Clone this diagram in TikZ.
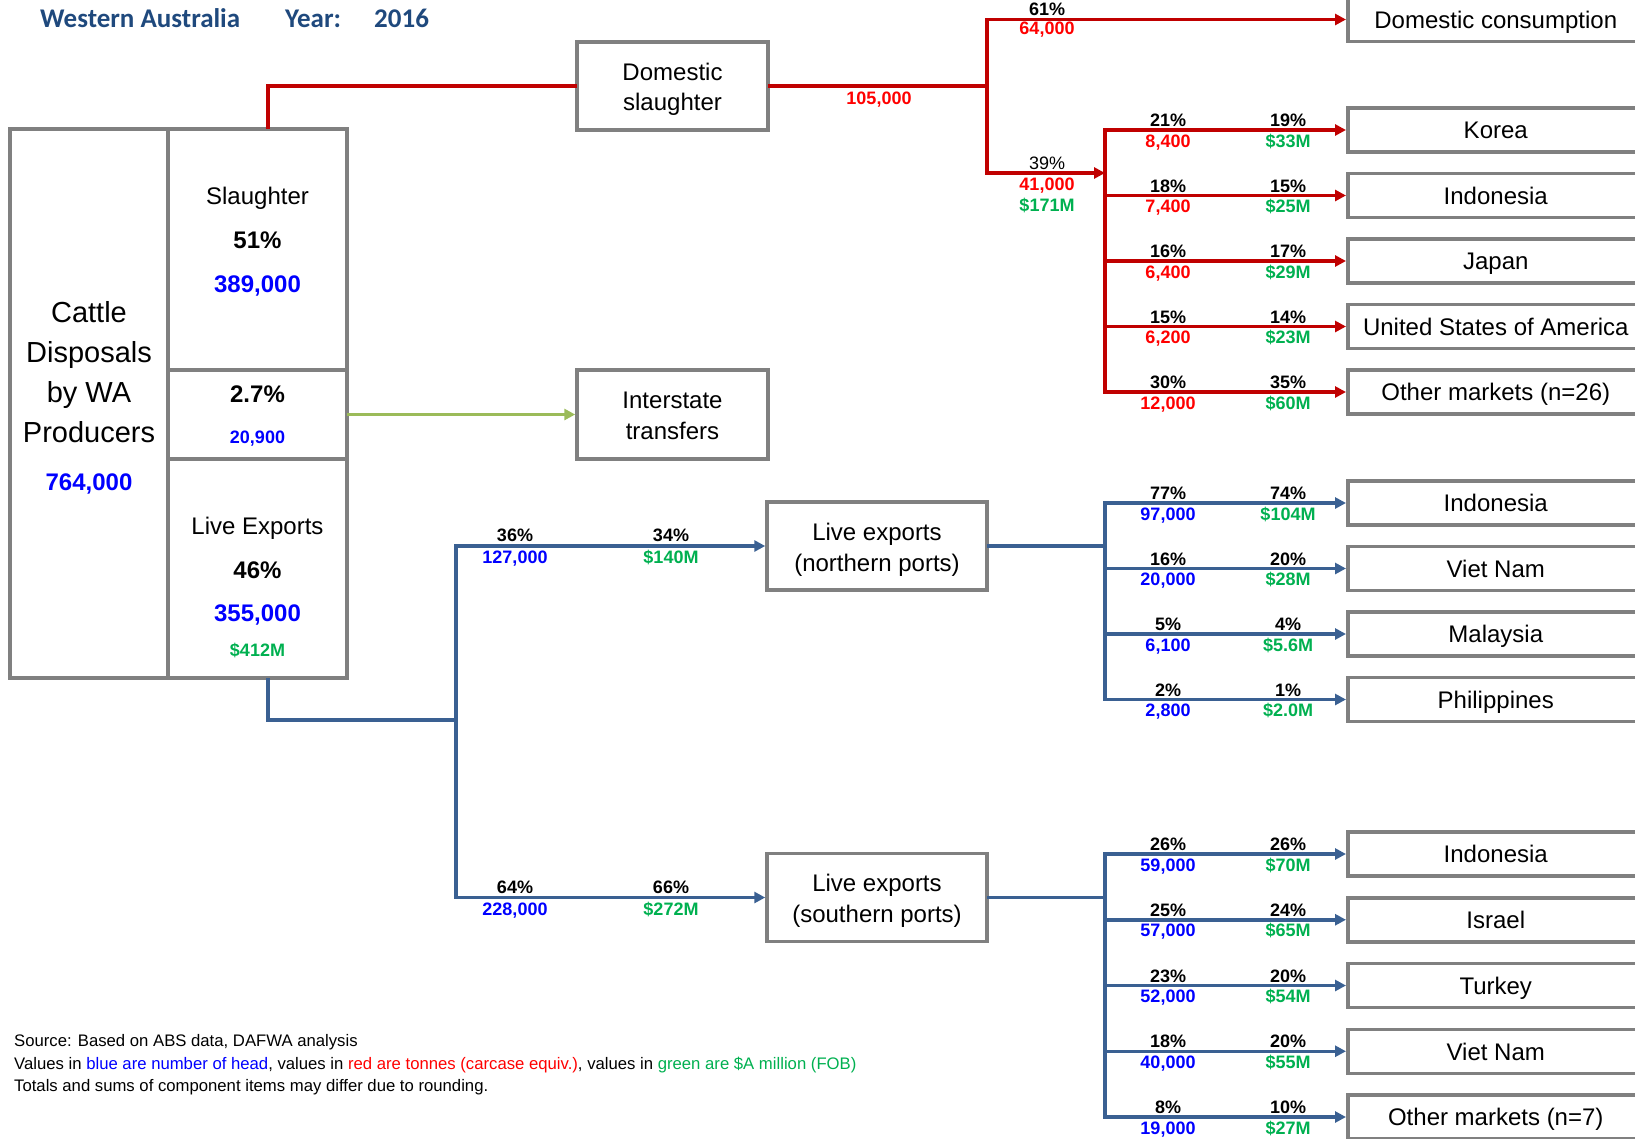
\documentclass[tikz,border=0pt]{standalone}
\usepackage{fontspec}
\setmainfont{Liberation Sans}
\newfontfamily\titlefont{Carlito}
\usepackage{tikz}
\usetikzlibrary{arrows.meta, calc}

\definecolor{boxgray}{RGB}{128,128,128}
\definecolor{linered}{RGB}{192,0,0}
\definecolor{lineblue}{RGB}{58,96,146}
\definecolor{linegreen}{RGB}{155,187,89}
\definecolor{txtred}{RGB}{255,0,0}
\definecolor{txtblue}{RGB}{0,0,255}
\definecolor{txtgreen}{RGB}{0,176,80}
\definecolor{titleblue}{RGB}{31,73,125}

\tikzset{
	box/.style = {draw=boxgray, line width=3.5pt, fill=white, inner sep=0pt, font=\fontsize{24}{29.5}\selectfont},
	market/.style = {box, anchor=west, minimum width=296, minimum height=44, text height=17.5pt, text depth=0pt},
	port/.style = {box, minimum width=220, minimum height=88},
	cell/.style = {draw=boxgray, line width=3.5pt},
	flow/.style = {line width=3.5pt, line cap=rect},
	flowtip/.style = {-{Triangle[length=11pt, width=11pt]}},
	num/.style = {anchor=base, inner sep=0pt, font=\bfseries\fontsize{18}{20}\selectfont},
	big/.style = {anchor=base, inner sep=0pt, font=\fontsize{24}{28}\selectfont},
	bignum/.style = {big, font=\bfseries\fontsize{24}{28}\selectfont},
	note/.style = {anchor=base west, inner sep=0pt, font=\fontsize{16.7}{20}\selectfont},
	heading/.style = {anchor=base west, inner sep=0pt, titleblue, font=\titlefont\bfseries\fontsize{27}{30}\selectfont},
}

\begin{document}
\begin{tikzpicture}[x=1pt, y=-1pt]
	\useasboundingbox (0,0) rectangle (1635,1138);
	\clip (0,0) rectangle (1635,1138);

	\node [heading] (region) at (40,27) {Western Australia};
	\node [heading] (yearlbl) at (285,27) {Year:};
	\node [heading] (year) at (374,27) {2016};

	\node [cell, minimum width=158, minimum height=549] (cattle) at (89,403.5) {};
	\node [cell, minimum width=179, minimum height=241] (slau) at (257.5,249.5) {};
	\node [cell, minimum width=179, minimum height=89] (inter) at (257.5,414.5) {};
	\node [cell, minimum width=179, minimum height=219] (live) at (257.5,568.5) {};

	\foreach \y/\t in {322/Cattle, 362/Disposals, 402/by WA, 442/Producers}
		\node [big, font=\fontsize{29}{32}\selectfont] (c\y) at (89,\y) {\t};
	\node [bignum, txtblue] (ctotal) at (89,490) {764,000};

	\node [big] (slaulbl) at (257.5,204.5) {Slaughter};
	\node [bignum] (slaupc) at (257.5,248) {51\%};
	\node [bignum, txtblue] (slauhd) at (257.5,292.5) {389,000};
	\node [bignum] (interpc) at (257.5,402.5) {2.7\%};
	\node [num, txtblue] (interhd) at (257.5,443.5) {20,900};
	\node [big] (livelbl) at (257.5,534.5) {Live Exports};
	\node [bignum] (livepc) at (257.5,578) {46\%};
	\node [bignum, txtblue] (livehd) at (257.5,621.5) {355,000};
	\node [num, txtgreen] (liveval) at (257.5,656) {\$412M};

	\node [box, minimum width=191, minimum height=88] (dslau) at (672.5,86) {};
	\node [big] (dslau1) at (672.5,80) {Domestic};
	\node [big] (dslau2) at (672.5,110.5) {slaughter};
	\node [box, minimum width=191, minimum height=89] (trans) at (672.5,414.5) {};
	\node [big] (trans1) at (672.5,408.5) {Interstate};
	\node [big] (trans2) at (672.5,439) {transfers};
	\node [port] (nport) at (877,546) {};
	\node [big] (nport1) at (877,540.5) {Live exports};
	\node [big] (nport2) at (877,571) {(northern ports)};
	\node [port] (sport) at (877,897.5) {};
	\node [big] (sport1) at (877,891.5) {Live exports};
	\node [big] (sport2) at (877,922) {(southern ports)};
	\node [market] (dcons) at (1346,19.5) {Domestic consumption};

	\coordinate (rj) at (987,86);
	\coordinate (rsp) at (1105,173);
	\coordinate (lj) at (456,720);

	\draw [flow, linered] ([xshift=10.5pt]slau.north) |- (dslau.west);
	\draw [flow, linered] (dslau.east) -- (rj);
	\draw [flow, linered, flowtip] (rj) |- (dcons.west);
	\draw [flow, linered, flowtip] (rj) |- (rsp);
	\node [num, txtred] (dslauwt) at (879,104) {105,000};
	\node [num] (dconspc) at (1047,15.5) {61\%};
	\node [num, txtred] (dconswt) at (1047,34.5) {64,000};
	\node [num, font=\fontsize{18}{20}\selectfont] (exppc) at (1047,169.5) {39\%};
	\node [num, txtred] (expwt) at (1047,190) {41,000};
	\node [num, txtgreen] (expval) at (1047,211.5) {\$171M};

	\draw [flow, linegreen, flowtip] (inter.east) -- (trans.west);

	\draw [flow, lineblue] ([xshift=10.5pt]live.south) |- (lj);
	\draw [flow, lineblue, flowtip] (lj) |- (nport.west);
	\draw [flow, lineblue, flowtip] (lj) |- (sport.west);
	\node [num] (npc) at (515,541.5) {36\%};
	\node [num, txtblue] (nhd) at (515,563) {127,000};
	\node [num] (nvpc) at (671,541.5) {34\%};
	\node [num, txtgreen] (nval) at (671,563) {\$140M};
	\node [num] (spc) at (515,893.5) {64\%};
	\node [num, txtblue] (shd) at (515,915) {228,000};
	\node [num] (svpc) at (671,893.5) {66\%};
	\node [num, txtgreen] (sval) at (671,915) {\$272M};

	\foreach \y/\n/\pa/\va/\pb/\vb/\where in {
		130/kor/21/{8,400}/19/33/Korea,
		195.5/ind/18/{7,400}/15/25/Indonesia,
		261/jap/16/{6,400}/17/29/Japan,
		326.5/usa/15/{6,200}/14/23/United States of America,
		392/oth/30/{12,000}/35/60/Other markets (n=26)}
	{
		\node [market] (\n) at (1346,\y) {\where};
		\draw [flow, linered, flowtip] (\n.west -| rsp) -- (\n.west);
		\node [num] (pa\n) at (1168,\y-3.5) {\pa\%};
		\node [num, txtred] (va\n) at (1168,\y+17) {\va};
		\node [num] (pb\n) at (1288,\y-3.5) {\pb\%};
		\node [num, txtgreen] (vb\n) at (1288,\y+17) {\$\vb M};
	}
	\draw [flow, linered] (kor.west -| rsp) -- (oth.west -| rsp);

	\foreach \y/\n/\pa/\va/\pb/\vb/\where in {
		503/nind/77/{97,000}/74/104/Indonesia,
		568.5/nvie/16/{20,000}/20/28/Viet Nam,
		634/nmal/5/{6,100}/4/5.6/Malaysia,
		699.5/nphi/2/{2,800}/1/2.0/Philippines,
		854/sind/26/{59,000}/26/70/Indonesia,
		919.75/sisr/25/{57,000}/24/65/Israel,
		985.5/stur/23/{52,000}/20/54/Turkey,
		1051.25/svie/18/{40,000}/20/55/Viet Nam,
		1117/soth/8/{19,000}/10/27/Other markets (n=7)}
	{
		\node [market] (\n) at (1346,\y) {\where};
		\draw [flow, lineblue, flowtip] (\n.west -| rsp) -- (\n.west);
		\node [num] (pa\n) at (1168,\y-3.5) {\pa\%};
		\node [num, txtblue] (va\n) at (1168,\y+17) {\va};
		\node [num] (pb\n) at (1288,\y-3.5) {\pb\%};
		\node [num, txtgreen] (vb\n) at (1288,\y+17) {\$\vb M};
	}
	\draw [flow, lineblue] (nport.east) -- (nport.east -| rsp);
	\draw [flow, lineblue] (nind.west -| rsp) -- (nphi.west -| rsp);
	\draw [flow, lineblue] (sport.east) -- (sport.east -| rsp);
	\draw [flow, lineblue] (sind.west -| rsp) -- (soth.west -| rsp);

	\node [note] (src) at (14,1046.5) {Source: Based on ABS data, DAFWA analysis};
	\node [note] (key) at (14,1069.5) {Values in \textcolor{txtblue}{blue are number of head}, values in \textcolor{txtred}{red are tonnes (carcase equiv.)}, values in \textcolor{txtgreen}{green are \$A million (FOB)}};
	\node [note] (rnd) at (14,1091.5) {Totals and sums of component items may differ due to rounding.};
\end{tikzpicture}
\end{document}
